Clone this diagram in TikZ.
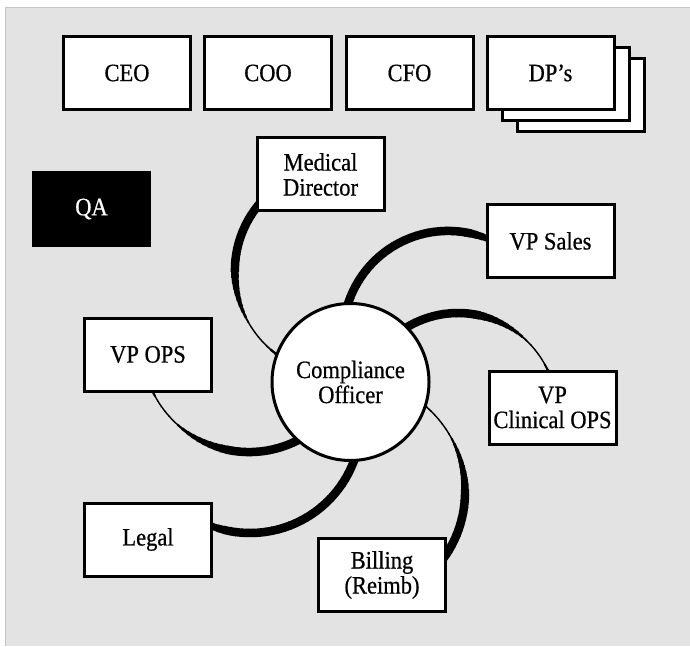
\documentclass[tikz,border=0pt]{standalone}
\usepackage{fontspec}
\setmainfont[FakeStretch=0.9, FakeBold=0.6]{Liberation Serif}
\pgfdeclarelayer{bg}
\pgfdeclarelayer{arms}
\pgfsetlayers{bg,arms,main}
\definecolor{panel}{gray}{0.89}
\definecolor{panelline}{gray}{0.78}

\begin{document}
\begin{tikzpicture}[x=1pt, y=1pt, font=\fontsize{25}{25}\selectfont,
    box/.style={draw, fill=white, line width=3pt, minimum width=127pt, minimum height=73pt, inner sep=0pt, align=center},
    qabox/.style={box, fill=black, text=white, minimum width=116pt},
    hub/.style={draw, fill=white, circle, line width=3pt, minimum size=157pt, inner sep=0pt, align=center},
    arm/.style={black, line cap=butt}]
    \def \wmin {1.4} % thinnest part of an arm
    \def \wmax {8.5}
    \def \nib {40} % arms are thin where they run at this angle + 90
    \useasboundingbox (0,0) rectangle (690,646);
    \begin{pgfonlayer}{bg}
      \fill[panel] (5,0) rectangle (690,639);
      \draw[panelline] (5,0) -- (5,639) -- (690,639);
    \end{pgfonlayer}
    % top row
    \node[box] (ceo) at (127,573) {CEO};
    \node[box] (coo) at (268,573) {COO};
    \node[box] (cfo) at (409.5,573) {CFO};
    \node[box] (dp3) at (580.5,551) {};
    \node[box] (dp2) at (565.5,562) {};
    \node[box] (dp) at (550.5,573) {DP's};
    \node[qabox] (qa) at (91.5,437) {QA};
    % the wheel
    \node[hub] (co) at (350.5,264) {Compliance\\Officer};
    \node[box] (md) at (320.5,471.5) {Medical\\Director};
    \node[box] (vps) at (550.5,405) {VP Sales};
    \node[box] (vpc) at (552.5,238.5) {VP\\Clinical OPS};
    \node[box] (bill) at (382,71) {Billing\\(Reimb)};
    \node[box] (legal) at (148,106.5) {Legal};
    \node[box] (vpo) at (148,291.5) {VP OPS};
    \begin{pgfonlayer}{arms}
    \foreach \ang/\dist/\rad/\from/\to in {96/111.6/104/236/138, 25.3/107.8/105/165/64,
        -15.6/111.6/99/126/22, -89.2/110/113/52/-37, -158.3/108.2/111/-18/-113, 160/108/107/-59/-158}
    {
      \pgfmathsetmacro\dt{(\from-\to)/30}
      \pgfmathsetmacro\da{-\dt-0.4}
      \foreach \i in {0,...,29}
      {
        \pgfmathsetmacro\ta{\from-\dt*\i}
        \pgfmathsetmacro\lw{\wmin+(\wmax-\wmin)*min(1,max(0,(abs(sin(\ta-\nib))-0.15)*2))}
        \draw[arm, line width=\lw pt] ([shift={(\ang:\dist)}]co.center) ++(\ta:\rad)
          arc[start angle=\ta, delta angle=\da, radius=\rad];
      }
    }
    \end{pgfonlayer}
\end{tikzpicture}
\end{document}
